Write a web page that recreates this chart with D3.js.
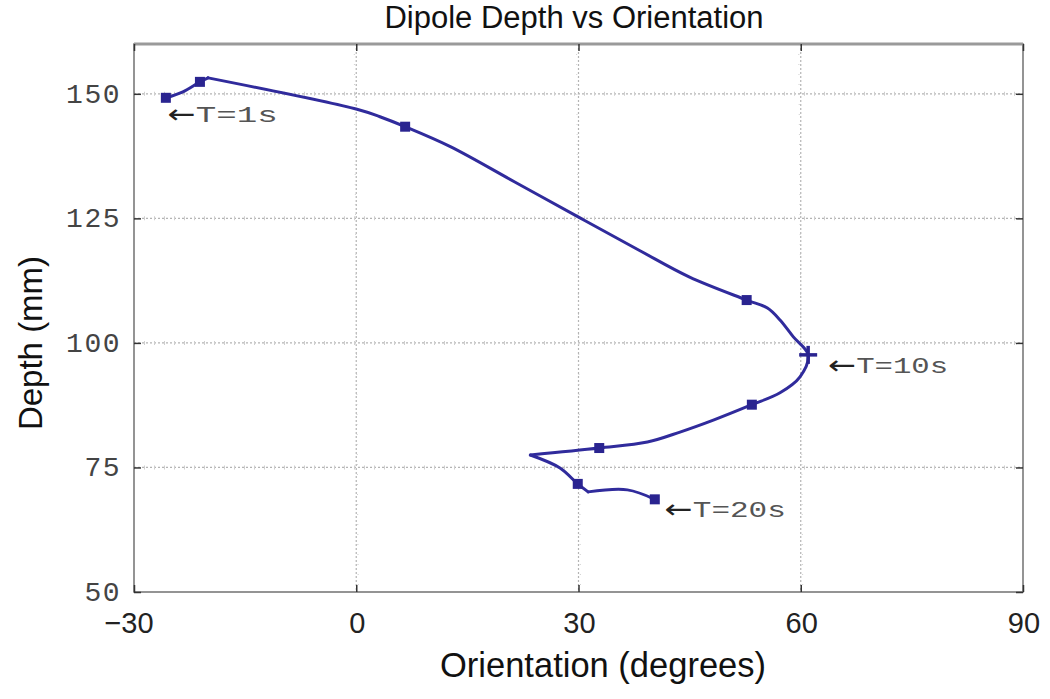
<!DOCTYPE html>
<html>
<head>
<meta charset="utf-8">
<script src="https://cdn.jsdelivr.net/npm/d3@7"></script>
<style>
  html, body { margin: 0; padding: 0; background: #fff; }
  svg { display: block; }
</style>
</head>
<body>
<svg id="chart" width="1050" height="699"></svg>
<script>
// ---- data ----
const title = "Dipole Depth vs Orientation";
const xLabel = "Orientation (degrees)";
const yLabel = "Depth (mm)";
const xTicks = [-30, 0, 30, 60, 90];
const yTicks = [50, 75, 100, 125, 150];
const xDomain = [-30, 90];
const yDomain = [50, 160];

// trajectory (orientation, depth)
const pathOrient = [-25.7, -23.4, -21.1, -20.0, 0.1, 3.2, 6.6, 12.7, 21.4, 30.2, 38.3, 45.0, 52.7, 55.5, 57.2, 59.0, 61.0, 59.9, 57.2, 53.4, 48.2, 43.7, 39.3, 32.8, 23.5, 27.5, 29.9, 31.3, 36.6, 40.3];
const pathDepth  = [149.2, 150.4, 152.4, 153.2, 146.9, 145.4, 143.4, 139.4, 132.3, 125.1, 118.5, 113.2, 108.6, 107.0, 104.6, 101.2, 97.6, 93.2, 90.0, 87.6, 84.5, 82.1, 80.1, 78.9, 77.5, 74.9, 71.7, 70.1, 70.5, 68.6];
// indices of sharp corners along the trajectory
const cornerIdx = [3, 24, 27];

// square markers
const markOrient = [-25.7, -21.1, 6.6, 52.7, 53.4, 32.8, 29.9, 40.3];
const markDepth  = [149.2, 152.4, 143.4, 108.6, 87.6, 78.9, 71.7, 68.6];

// plus marker
const plusOrient = [61.0];
const plusDepth  = [97.6];

// annotations
const annLabel  = ["T=1s", "T=10s", "T=20s"];
const annOrient = [-25.7, 61.0, 40.3];
const annDepth  = [149.2, 97.6, 68.6];

// ---- layout ----
const svg = d3.select("#chart");
const m = {left: 134, top: 44, right: 1023, bottom: 592};
const x = d3.scaleLinear().domain(xDomain).range([m.left, m.right]);
const y = d3.scaleLinear().domain(yDomain).range([m.bottom, m.top]);

const lineColor = "#302b9c";
const markColor = "#2a2490";
const gridColor = "#b4b4b4";

// grid lines
const gx = xTicks.filter(v => v > xDomain[0] && v < xDomain[1]);
const gy = yTicks.filter(v => v > yDomain[0] && v < yDomain[1]);
const grid = svg.append("g");
grid.selectAll("line.gx").data(gx).enter().append("line")
  .attr("x1", d => x(d)).attr("x2", d => x(d))
  .attr("y1", m.top).attr("y2", m.bottom)
  .attr("stroke", gridColor).attr("stroke-width", 1.2).attr("stroke-dasharray", "2,2");
grid.selectAll("line.gy").data(gy).enter().append("line")
  .attr("y1", d => y(d)).attr("y2", d => y(d))
  .attr("x1", m.left).attr("x2", m.right)
  .attr("stroke", gridColor).attr("stroke-width", 1.2).attr("stroke-dasharray", "2,2");
// small cross marks along grid lines
grid.selectAll("line.gxm").data(gx).enter().append("line")
  .attr("x1", d => x(d) - 2).attr("x2", d => x(d) + 2)
  .attr("y1", m.top).attr("y2", m.bottom)
  .attr("stroke", "#cfcfcf").attr("stroke-width", 1).attr("stroke-dasharray", "1,9");
grid.selectAll("line.gym").data(gy).enter().append("line")
  .attr("y1", d => y(d)).attr("y2", d => y(d))
  .attr("x1", m.left).attr("x2", m.right)
  .attr("stroke", "#cfcfcf").attr("stroke-width", 4).attr("stroke-dasharray", "1,9");

// frame
svg.append("rect")
  .attr("x", m.left).attr("y", m.top)
  .attr("width", m.right - m.left).attr("height", m.bottom - m.top)
  .attr("fill", "none").attr("stroke", "#7a7a7a").attr("stroke-width", 1.6);
svg.append("line").attr("x1", m.left).attr("x2", m.right)
  .attr("y1", m.top).attr("y2", m.top)
  .attr("stroke", "#9a9a9a").attr("stroke-width", 3);

// axes (ticks inward)
const xAxisB = d3.axisBottom(x).tickValues(xTicks).tickSize(-7).tickFormat("");
const xAxisT = d3.axisTop(x).tickValues(xTicks).tickSize(-7).tickFormat("");
const yAxisL = d3.axisLeft(y).tickValues(yTicks).tickSize(-7).tickFormat("");
const yAxisR = d3.axisRight(y).tickValues(yTicks).tickSize(-7).tickFormat("");
function styleAxis(g) {
  g.select(".domain").remove();
  g.selectAll(".tick line").attr("stroke", "#333").attr("stroke-width", 1.5);
}
svg.append("g").attr("transform", `translate(0,${m.bottom})`).call(xAxisB).call(styleAxis);
svg.append("g").attr("transform", `translate(0,${m.top})`).call(xAxisT).call(styleAxis);
svg.append("g").attr("transform", `translate(${m.left},0)`).call(yAxisL).call(styleAxis);
svg.append("g").attr("transform", `translate(${m.right},0)`).call(yAxisR).call(styleAxis);

// tick labels
svg.selectAll("text.xt").data(xTicks).enter().append("text")
  .attr("x", d => x(d) + (d < 0 ? -5 : 1)).attr("y", 633)
  .attr("text-anchor", "middle")
  .attr("font-family", "Liberation Sans, Arial, sans-serif")
  .attr("font-size", 29).attr("fill", "#222")
  .text(d => d < 0 ? "\u2212" + Math.abs(d) : d);
svg.selectAll("text.yt").data(yTicks).enter().append("text")
  .attr("x", m.left - 13).attr("y", d => y(d) + 9)
  .attr("text-anchor", "end")
  .attr("font-family", "Liberation Mono, Courier New, monospace")
  .attr("font-size", 28).attr("letter-spacing", 1.5).attr("fill", "#444")
  .text(d => d);

// titles
svg.append("text").attr("x", 574).attr("y", 28)
  .attr("text-anchor", "middle")
  .attr("font-family", "Liberation Sans, Arial, sans-serif")
  .attr("font-size", 31).attr("fill", "#111")
  .text(title);
svg.append("text").attr("x", 603).attr("y", 677)
  .attr("text-anchor", "middle")
  .attr("font-family", "Liberation Sans, Arial, sans-serif")
  .attr("font-size", 34.5).attr("fill", "#111")
  .text(xLabel);
svg.append("text")
  .attr("transform", "translate(42,343) rotate(-90)")
  .attr("text-anchor", "middle")
  .attr("font-family", "Liberation Sans, Arial, sans-serif")
  .attr("font-size", 33).attr("fill", "#111")
  .text(yLabel);

// trajectory line: smooth pieces joined at the sharp corners
const pts = pathOrient.map((v, i) => [v, pathDepth[i]]);
const line = d3.line().x(d => x(d[0])).y(d => y(d[1])).curve(d3.curveCatmullRom.alpha(0.5));
const breaks = [0, ...cornerIdx, pts.length - 1];
for (let k = 0; k < breaks.length - 1; k++) {
  svg.append("path").datum(pts.slice(breaks[k], breaks[k + 1] + 1))
    .attr("d", line)
    .attr("fill", "none").attr("stroke", lineColor).attr("stroke-width", 3)
    .attr("stroke-linejoin", "round").attr("stroke-linecap", "round");
}

// square markers
const ms = 10;
svg.selectAll("rect.mk").data(markOrient.map((v, i) => [v, markDepth[i]])).enter().append("rect")
  .attr("x", d => x(d[0]) - ms / 2).attr("y", d => y(d[1]) - ms / 2)
  .attr("width", ms).attr("height", ms)
  .attr("fill", markColor);

// plus marker
const ps = 9;
plusOrient.forEach((v, i) => {
  const cx = x(v), cy = y(plusDepth[i]);
  svg.append("line").attr("x1", cx - ps).attr("x2", cx + ps).attr("y1", cy).attr("y2", cy)
    .attr("stroke", markColor).attr("stroke-width", 3.5);
  svg.append("line").attr("x1", cx).attr("x2", cx).attr("y1", cy - ps).attr("y2", cy + ps)
    .attr("stroke", markColor).attr("stroke-width", 3.5);
});

// annotations: arrow glyph + label
const annDx = [2, 20, 10];
const annDy = [24, 18, 18];
const annLen = [82, 92, 93];
annLabel.forEach((t, i) => {
  const ax = x(annOrient[i]) + annDx[i], ay = y(annDepth[i]) + annDy[i];
  svg.append("text")
    .attr("x", ax).attr("y", ay + 1)
    .attr("font-family", "DejaVu Sans, sans-serif")
    .attr("font-size", 26).attr("fill", "#222")
    .attr("textLength", 28).attr("lengthAdjust", "spacingAndGlyphs")
    .text("\u2190");
  svg.append("text")
    .attr("x", ax + 28).attr("y", ay)
    .attr("font-family", "Liberation Mono, DejaVu Sans Mono, monospace")
    .attr("font-size", 22).attr("fill", "#555")
    .attr("textLength", annLen[i]).attr("lengthAdjust", "spacingAndGlyphs")
    .text(t);
});
</script>
</body>
</html>
